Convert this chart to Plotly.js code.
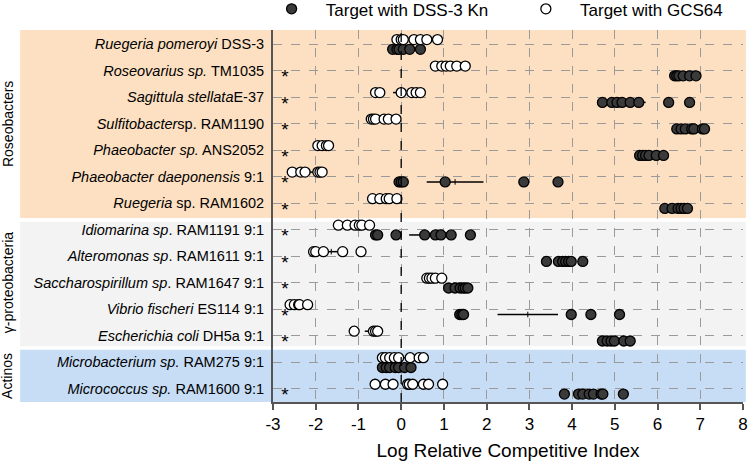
<!DOCTYPE html>
<html><head><meta charset="utf-8">
<script src="https://cdn.plot.ly/plotly-3.0.1.min.js"></script>
<style>html,body{margin:0;padding:0;background:#fff}</style>
</head><body>
<div id="chart" style="width:750px;height:463px"></div>
<script>
const strains = [
    '<i>Ruegeria pomeroyi</i> DSS-3',
    '<i>Roseovarius sp.</i> TM1035',
    '<i>Sagittula stellata</i>E-37',
    '<i>Sulfitobacter</i>sp. RAM1190',
    '<i>Phaeobacter sp.</i> ANS2052',
    '<i>Phaeobacter daeponensis</i> 9:1',
    '<i>Ruegeria</i> sp. RAM1602',
    '<i>Idiomarina sp</i>. RAM1191 9:1',
    '<i>Alteromonas sp</i>. RAM1611 9:1',
    '<i>Saccharospirillum sp</i>. RAM1647 9:1',
    '<i>Vibrio fischeri</i> ES114 9:1',
    '<i>Escherichia coli</i> DH5a 9:1',
    '<i>Microbacterium sp.</i> RAM275 9:1',
    '<i>Micrococcus sp.</i> RAM1600 9:1'
];
const xTicks = [-3, -2, -1, 0, 1, 2, 3, 4, 5, 6, 7, 8];
// log RCI, target competed with DSS-3 Kn (filled)
const withKn = [
    [-0.2, -0.1, -0.05, 0.05, 0.2, 0.45],
    [6.4, 6.45, 6.5, 6.6, 6.75, 6.9],
    [4.71, 4.93, 5.05, 5.17, 5.36, 5.56, 6.26, 6.75],
    [6.45, 6.55, 6.65, 6.8, 6.85, 7.05, 7.1],
    [5.58, 5.65, 5.72, 5.8, 5.97, 6.14],
    [-0.05, 0.0, 0.05, 1.03, 2.87, 3.67],
    [6.17, 6.34, 6.48, 6.55, 6.62, 6.7],
    [-0.6, -0.55, -0.12, 0.55, 0.8, 0.93, 1.17, 1.62],
    [3.4, 3.68, 3.78, 3.85, 3.92, 3.98, 4.25],
    [1.11, 1.26, 1.38, 1.45, 1.5, 1.56],
    [1.37, 1.42, 1.46, 3.98, 4.44, 5.11],
    [4.71, 4.82, 4.91, 4.99, 5.21, 5.36],
    [-0.44, -0.35, -0.27, -0.14, -0.06, 0.08, 0.23],
    [3.82, 4.15, 4.25, 4.4, 4.5, 4.68, 4.72, 5.2]
];
// log RCI, target competed with GCS64 (open)
const withGcs = [
    [-0.1, 0.0, 0.05, 0.3, 0.45, 0.6, 0.85],
    [0.8, 0.95, 1.05, 1.15, 1.3, 1.5],
    [-0.6, -0.5, 0.0, 0.25, 0.35, 0.45],
    [-0.7, -0.65, -0.6, -0.4, -0.3, -0.12],
    [-1.95, -1.85, -1.75, -1.7],
    [-2.55, -2.35, -2.25, -1.95, -1.9, -1.85],
    [-0.67, -0.5, -0.35, -0.28, -0.1],
    [-1.47, -1.26, -1.08, -0.98, -0.92, -0.74],
    [-2.05, -2.0, -1.82, -1.37, -0.94],
    [0.6, 0.66, 0.72, 0.8, 0.95],
    [-2.6, -2.5, -2.4, -2.38, -2.19],
    [-1.1, -0.65, -0.6, -0.55],
    [-0.44, -0.37, -0.27, -0.16, -0.06, 0.21, 0.42, 0.52],
    [-0.61, -0.37, -0.19, 0.15, 0.19, 0.27, 0.52, 0.64, 0.97]
];
const significant = [false, true, true, true, true, true, true, true, true, true, true, true, false, true];
const groups = ['Roseobacters', 'γ-proteobacteria', 'Actinos'];
const groupRows = [[0, 6], [7, 11], [12, 13]];

const bandColors = ['#fde0c2', '#f3f3f3', '#c7ddf6'];
const bandBounds = [[-0.6, 6.56], [6.7, 11.4], [11.53, 13.6]];
const FONT = 'Arial, "Liberation Sans", sans-serif';
const PAD = '\u00a0\u00a0\u00a0';

function meanSem(a) {
    const m = a.reduce((s, v) => s + v, 0) / a.length;
    const sd = Math.sqrt(a.reduce((s, v) => s + (v - m) ** 2, 0) / (a.length - 1));
    return [m, sd / Math.sqrt(a.length)];
}

function dotTrace(sets, off, name, fill, legend) {
    const x = [], y = [];
    sets.forEach((vals, i) => vals.forEach(v => { x.push(v); y.push(i + off); }));
    return {
        type: 'scatter', mode: 'markers', name: PAD + name, x: x, y: y, legend: legend,
        marker: {size: 10, color: fill, line: {color: '#000', width: 1.3}},
        hoverinfo: 'x'
    };
}

function semTrace(sets, off) {
    const x = [], y = [], e = [];
    sets.forEach((vals, i) => { const r = meanSem(vals); x.push(r[0]); e.push(r[1]); y.push(i + off); });
    return {
        type: 'scatter', mode: 'markers', x: x, y: y, showlegend: false, hoverinfo: 'skip',
        marker: {symbol: 'line-ns-open', size: 4, color: '#000', line: {width: 1, color: '#000'}},
        error_x: {type: 'data', array: e, visible: true, color: '#000', thickness: 1.5, width: 0}
    };
}

const sigRows = significant.map((s, i) => s ? i : null).filter(i => i !== null);

const data = [
    semTrace(withKn, 0.2),
    semTrace(withGcs, -0.17),
    dotTrace(withKn, 0.2, 'Target with DSS-3 Kn', '#3a3a3a', 'legend'),
    dotTrace(withGcs, -0.17, 'Target with GCS64', '#ffffff', 'legend2'),
    {
        type: 'scatter', mode: 'text', x: sigRows.map(() => -2.72), y: sigRows.map(i => i + 0.3),
        text: sigRows.map(() => '*'), textfont: {size: 19, color: '#000', family: FONT},
        showlegend: false, hoverinfo: 'skip'
    }
];

const shapes = bandBounds.map((b, k) => ({
    type: 'rect', xref: 'paper', yref: 'y', x0: -0.538, x1: 1.006, y0: b[0], y1: b[1],
    fillcolor: bandColors[k], line: {width: 0}, layer: 'below'
}));
shapes.push({type: 'line', xref: 'x', yref: 'paper', x0: 0, x1: 0, y0: 0, y1: 1,
    line: {color: '#000', width: 1.3, dash: 'dash'}});

const annotations = groups.map((g, k) => ({
    text: g, xref: 'paper', yref: 'y', x: -0.565, xanchor: 'center', yanchor: 'middle',
    y: (groupRows[k][0] + groupRows[k][1]) / 2,
    textangle: -90, showarrow: false, font: {size: 14, color: '#000', family: FONT}
}));

const legendBase = {orientation: 'h', xanchor: 'left', y: 1.104, yanchor: 'top',
    font: {size: 17, family: FONT}, bgcolor: 'rgba(0,0,0,0)', borderwidth: 0};

const layout = {
    width: 750, height: 463,
    margin: {l: 273, r: 7, t: 30, b: 61, autoexpand: false},
    paper_bgcolor: '#fff', plot_bgcolor: 'rgba(0,0,0,0)',
    font: {family: FONT, color: '#000'},
    showlegend: true,
    legend: Object.assign({x: -0.003}, legendBase),
    legend2: Object.assign({x: 0.538}, legendBase),
    xaxis: {
        range: [-3, 8], tickvals: xTicks, ticktext: xTicks.map(String),
        ticks: 'outside', ticklen: 6, tickwidth: 1.5, tickcolor: '#555',
        showline: true, linecolor: '#555', linewidth: 2,
        showgrid: true, gridcolor: '#9a9a9a', griddash: 'dash', gridwidth: 1, zeroline: false,
        tickfont: {size: 17, family: FONT},
        title: {text: 'Log Relative Competitive Index', font: {size: 19, family: FONT}, standoff: 10}
    },
    yaxis: {
        range: [13.5, -0.53], tickvals: strains.map((_, i) => i), ticktext: strains,
        showline: true, linecolor: '#555', linewidth: 2, ticks: '', ticklabelstandoff: 4,
        showgrid: true, gridcolor: '#9a9a9a', griddash: 'dash', gridwidth: 1, zeroline: false,
        tickfont: {size: 14.5, family: FONT}
    },
    shapes: shapes,
    annotations: annotations
};

Plotly.newPlot('chart', data, layout, {displayModeBar: false});
</script>
</body></html>
